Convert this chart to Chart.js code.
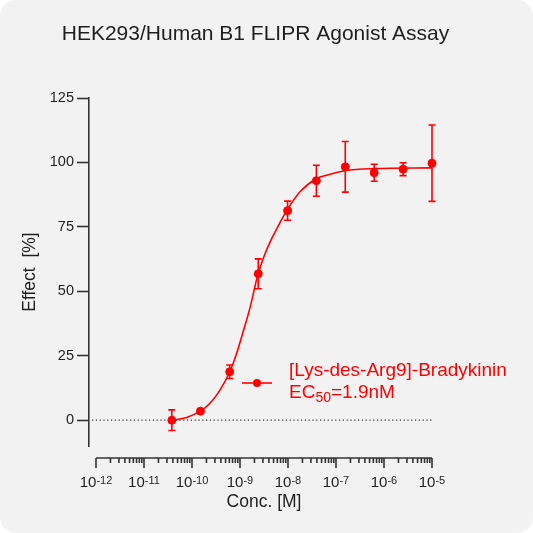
<!DOCTYPE html>
<html>
<head>
<meta charset="utf-8">
<title>HEK293/Human B1 FLIPR Agonist Assay</title>
<script src="https://cdn.jsdelivr.net/npm/chart.js@4.4.0/dist/chart.umd.min.js"></script>
<style>
    html, body { margin: 0; padding: 0; background: #ffffff; }
    #card { width: 533px; height: 533px; background: #f2f2f2; border-radius: 16px; overflow: hidden; }
    canvas { display: block; }
</style>
</head>
<body>
<div id="card"><canvas id="myChart" width="533" height="533"></canvas></div>
<script>
// measured points (molar concentration, % effect, error)
const concentrations = [3.8e-11, 1.5e-10, 6.1e-10, 2.4e-9, 9.8e-9, 3.9e-8, 1.56e-7, 6.25e-7, 2.5e-6, 1.0e-5];
const effects = [0.0, 3.5, 18.8, 56.8, 81.3, 92.9, 98.3, 96.0, 97.4, 99.7];
const errors = [4.0, 0.8, 2.6, 5.8, 3.7, 6.0, 9.8, 3.3, 2.5, 14.8];

// fitted curve
const fitConc = [3.8e-11, 7.76e-11, 1.51e-10, 2.37e-10, 3.83e-10, 5.98e-10, 8.53e-10, 1.17e-9, 1.61e-9,
    2.37e-9, 3.31e-9, 4.68e-9, 6.65e-9, 9.55e-9, 1.78e-8, 3.8e-8, 7.5e-8, 1.55e-7, 6.17e-7, 1.0e-5];
const fitEffect = [0.0, 1.1, 3.6, 6.6, 11.7, 18.4, 26.0, 34.5, 43.5,
    56.6, 64.5, 70.8, 76.3, 81.5, 88.6, 93.6, 95.4, 96.8, 97.6, 97.9];

const yTicks = [0, 25, 50, 75, 100, 125];
const xDecades = [-12, -11, -10, -9, -8, -7, -6, -5];

const seriesName = '[Lys-des-Arg9]-Bradykinin';
const titleText = 'HEK293/Human B1 FLIPR Agonist Assay';

const red = '#ff0000';
const axisColor = '#333333';
const textColor = '#1e1e1e';
const fontFamily = "'Liberation Sans', Arial, sans-serif";

const ctx = document.getElementById('myChart').getContext('2d');

const extrasPlugin = {
    id: 'extras',
    beforeDatasetsDraw(chart) {
        const c = chart.ctx;
        const xs = chart.scales.x;
        const ys = chart.scales.y;
        const area = chart.chartArea;

        // dotted zero line
        const y0 = ys.getPixelForValue(0);
        c.save();
        c.strokeStyle = axisColor;
        c.lineWidth = 1.2;
        c.setLineDash([1.2, 2.6]);
        c.beginPath();
        c.moveTo(area.left + 3, y0);
        c.lineTo(xs.getPixelForValue(1e-5), y0);
        c.stroke();
        c.restore();

        // error bars
        c.save();
        c.strokeStyle = red;
        c.lineWidth = 1.6;
        concentrations.forEach((conc, i) => {
            const x = xs.getPixelForValue(conc);
            const top = ys.getPixelForValue(effects[i] + errors[i]);
            const bottom = ys.getPixelForValue(effects[i] - errors[i]);
            c.beginPath();
            c.moveTo(x, top);
            c.lineTo(x, bottom);
            c.moveTo(x - 3.5, top);
            c.lineTo(x + 3.5, top);
            c.moveTo(x - 3.5, bottom);
            c.lineTo(x + 3.5, bottom);
            c.stroke();
        });
        c.restore();
    },
    afterDraw(chart) {
        const c = chart.ctx;
        const xs = chart.scales.x;
        const axisY = 458;

        c.save();
        // title
        c.fillStyle = textColor;
        c.font = `21px ${fontFamily}`;
        c.textAlign = 'center';
        c.textBaseline = 'alphabetic';
        c.fillText(titleText, 255.5, 40);

        // x axis
        const xStart = xs.getPixelForValue(10 ** xDecades[0]);
        const xEnd = xs.getPixelForValue(10 ** xDecades[xDecades.length - 1]);
        c.strokeStyle = axisColor;
        c.lineWidth = 1.6;
        c.beginPath();
        c.moveTo(xStart, axisY);
        c.lineTo(xEnd, axisY);
        xDecades.forEach((d, i) => {
            const x = xs.getPixelForValue(10 ** d);
            c.moveTo(x, axisY);
            c.lineTo(x, axisY + 10);
            if (i < xDecades.length - 1) {
                for (let m = 2; m <= 9; m++) {
                    const xm = xs.getPixelForValue(m * 10 ** d);
                    c.moveTo(xm, axisY);
                    c.lineTo(xm, axisY + 5);
                }
            }
        });
        c.stroke();

        // x tick labels 10^n
        c.textAlign = 'left';
        xDecades.forEach(d => {
            const x = xs.getPixelForValue(10 ** d);
            const sup = String(d);
            c.font = `15px ${fontFamily}`;
            const w1 = c.measureText('10').width;
            c.font = `11px ${fontFamily}`;
            const w2 = c.measureText(sup).width;
            const start = x - (w1 + w2) / 2;
            c.font = `15px ${fontFamily}`;
            c.fillText('10', start, 487);
            c.font = `11px ${fontFamily}`;
            c.fillText(sup, start + w1, 483.5);
        });

        // x title
        c.font = `17.5px ${fontFamily}`;
        c.textAlign = 'center';
        c.fillText('Conc. [M]', (xStart + xEnd) / 2, 507);

        // legend
        c.strokeStyle = red;
        c.fillStyle = red;
        c.lineWidth = 1.6;
        c.beginPath();
        c.moveTo(242, 383);
        c.lineTo(272, 383);
        c.stroke();
        c.beginPath();
        c.arc(257, 383, 4, 0, Math.PI * 2);
        c.fill();

        c.textAlign = 'left';
        c.font = `19px ${fontFamily}`;
        c.fillText(seriesName, 289, 376);
        let lx = 289;
        c.fillText('EC', lx, 398);
        lx += c.measureText('EC').width;
        c.font = `14px ${fontFamily}`;
        c.fillText('50', lx, 402);
        lx += c.measureText('50').width;
        c.font = `19px ${fontFamily}`;
        c.fillText('=1.9nM', lx, 398);
        c.restore();
    }
};

const chart = new Chart(ctx, {
    type: 'scatter',
    data: {
        datasets: [
            {
                label: 'fit',
                data: fitConc.map((c, i) => ({ x: c, y: fitEffect[i] })),
                showLine: true,
                borderColor: red,
                borderWidth: 1.6,
                pointRadius: 0,
                cubicInterpolationMode: 'monotone',
                order: 2
            },
            {
                label: seriesName,
                data: concentrations.map((c, i) => ({ x: c, y: effects[i] })),
                showLine: false,
                pointRadius: 4,
                pointBackgroundColor: red,
                pointBorderColor: red,
                order: 1
            }
        ]
    },
    options: {
        responsive: false,
        animation: false,
        layout: { padding: { top: 98, right: 94, bottom: 87, left: 16 } },
        plugins: {
            legend: { display: false },
            tooltip: { enabled: false },
            title: { display: false }
        },
        scales: {
            x: {
                type: 'logarithmic',
                display: false,
                min: 10 ** (-12 - 7 / 48),
                max: 10 ** (-5 + 7 / 48)
            },
            y: {
                min: -10,
                max: 125,
                afterBuildTicks: scale => {
                    scale.ticks = yTicks.map(v => ({ value: v }));
                },
                afterFit: scale => {
                    scale.width = 73;
                },
                border: { display: true, color: axisColor, width: 1.6 },
                grid: { drawOnChartArea: false, drawTicks: true, tickLength: 12, tickColor: axisColor, tickWidth: 1.6 },
                ticks: { color: textColor, font: { family: fontFamily, size: 14.5 }, padding: 3 },
                title: {
                    display: true,
                    text: 'Effect  [%]',
                    color: textColor,
                    font: { family: fontFamily, size: 17.5 },
                    padding: { top: 4, bottom: 4 }
                }
            }
        }
    },
    plugins: [extrasPlugin]
});
</script>
</body>
</html>
